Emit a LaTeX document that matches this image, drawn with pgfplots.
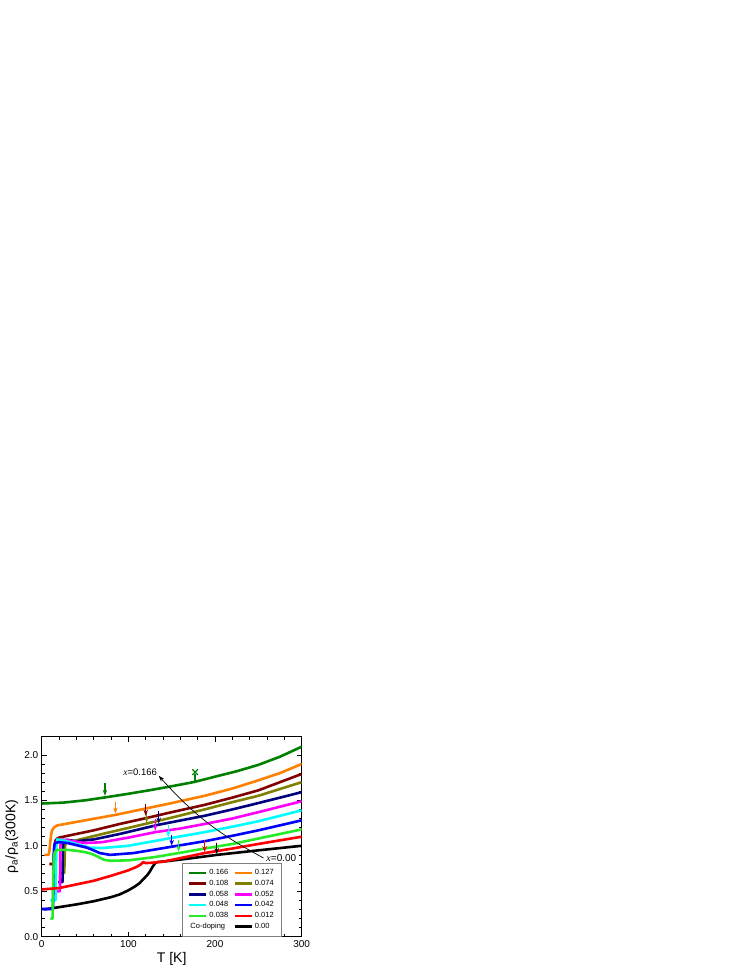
\documentclass[border=0pt]{standalone}
\usepackage{fontspec}
\setmainfont{Liberation Sans}
\newfontfamily\seriffont{Liberation Serif}
\usepackage{pgfplots}
\pgfplotsset{compat=1.18}
\usetikzlibrary{arrows.meta}
\definecolor{c166}{RGB}{0,128,0}
\definecolor{c127}{RGB}{255,128,0}
\definecolor{c108}{RGB}{128,0,0}
\definecolor{c074}{RGB}{128,128,0}
\definecolor{c058}{RGB}{0,0,128}
\definecolor{c052}{RGB}{255,0,255}
\definecolor{c048}{RGB}{0,255,255}
\definecolor{c042}{RGB}{0,0,255}
\definecolor{c038}{RGB}{40,235,40}
\definecolor{c012}{RGB}{255,0,0}
\begin{document}
\begin{tikzpicture}
\path[use as bounding box] (-41.7pt,-30.3pt) rectangle (705.3pt,936.7pt);
\begin{axis}[
  at={(0,0)}, anchor=south west,
  scale only axis, width=260pt, height=200pt,
  xmin=0, xmax=300, ymin=0, ymax=2.2,
  xtick={0,100,200,300}, ytick={0,0.5,1,1.5,2},
  minor x tick num=4, minor y tick num=4,
  tick align=inside, major tick length=5pt, minor tick length=3pt,
  every tick/.style={black, line width=0.6pt},
  axis line style={line width=0.6pt},
  /pgf/number format/assume math mode=true,
  yticklabel style={/pgf/number format/fixed,/pgf/number format/fixed zerofill,/pgf/number format/precision=1},
  ticklabel style={font=\fontsize{10}{12}\selectfont},
  xlabel={T [K]}, ylabel={ρ\textsubscript{a}/ρ\textsubscript{a}(300K)},
  label style={font=\fontsize{14}{16}\selectfont},
  xlabel style={yshift=2pt},
  ylabel style={yshift=-1pt},
  legend columns=2,
  legend cell align=left,
  legend style={at={(0.538,0.367)}, anchor=north west, draw=gray, line width=0.5pt,
    font=\fontsize{7.5}{9.3}\selectfont, inner xsep=6pt, inner ysep=4pt,
    /tikz/every even column/.append style={column sep=3pt}},
  every axis plot/.append style={line width=2.6pt, line join=round},
]
% 0.00 drawn first (behind)
\addplot[black, forget plot] coordinates {(2,0.30)(10,0.31)(20,0.325)(40,0.355)(60,0.39)(80,0.435)(90,0.465)(100,0.51)(108,0.555)(113,0.59)(118,0.64)(122,0.68)(125,0.72)(128,0.77)(131,0.81)(134,0.822)(140,0.826)(170,0.86)(202,0.9)(250,0.95)(300,1.0)};

\addplot[c166] coordinates {(0,1.465)(25,1.475)(50,1.50)(75,1.535)(100,1.572)(125,1.612)(150,1.655)(175,1.70)(200,1.76)(225,1.82)(250,1.89)(275,1.98)(300,2.09)};
\addlegendentry{0.166}
\addplot[c127] coordinates {(3,0.9)(8,0.9)(9,0.95)(10,1.05)(11,1.13)(12,1.17)(14,1.2)(17,1.22)(20,1.228)(30,1.245)(50,1.28)(85,1.34)(120,1.41)(150,1.47)(188,1.55)(220,1.63)(250,1.72)(275,1.80)(300,1.9)};
\addlegendentry{0.127}
\addplot[c108] coordinates {(9,0.8)(14,0.8)(14.5,0.9)(15,1.0)(16,1.06)(18,1.08)(20,1.09)(30,1.11)(60,1.17)(90,1.24)(123,1.31)(150,1.37)(188,1.45)(220,1.53)(250,1.61)(300,1.79)};
\addlegendentry{0.108}
\addplot[c074] coordinates {(22,0.7)(26,0.7)(26.5,0.85)(27,1.0)(28,1.03)(40,1.06)(70,1.13)(106,1.21)(150,1.31)(188,1.40)(220,1.48)(250,1.55)(300,1.70)};
\addlegendentry{0.074}
\addplot[c058] coordinates {(19,0.6)(24,0.6)(24.3,0.8)(24.6,1.0)(25.5,1.06)(30,1.065)(40,1.05)(60,1.07)(90,1.13)(134,1.23)(188,1.33)(220,1.40)(250,1.47)(300,1.59)};
\addlegendentry{0.058}
\addplot[c052] coordinates {(17,0.5)(21,0.5)(21.3,0.8)(21.6,1.0)(22.5,1.07)(30,1.06)(50,1.03)(70,1.04)(100,1.09)(131,1.15)(160,1.19)(188,1.24)(220,1.30)(250,1.37)(300,1.49)};
\addlegendentry{0.052}
\addplot[c048] coordinates {(10,0.4)(16,0.4)(16.5,0.7)(17,1.0)(18,1.07)(25,1.06)(40,1.02)(55,0.98)(70,0.975)(100,1.0)(146,1.08)(188,1.15)(220,1.21)(250,1.27)(300,1.39)};
\addlegendentry{0.048}
\addplot[c042] coordinates {(0,0.305)(13,0.305)(13.5,0.6)(14,0.95)(15,1.03)(20,1.04)(30,1.03)(52,0.98)(60,0.95)(67,0.92)(79,0.90)(106,0.92)(150,0.99)(188,1.05)(220,1.11)(250,1.17)(300,1.28)};
\addlegendentry{0.042}
\addplot[c038] coordinates {(10,0.2)(12.5,0.2)(13,0.5)(14,0.85)(15,0.93)(18,0.955)(30,0.955)(40,0.945)(50,0.93)(58,0.91)(65,0.88)(72,0.845)(80,0.835)(100,0.84)(130,0.875)(158,0.92)(188,0.97)(220,1.02)(250,1.08)(300,1.18)};
\addlegendentry{0.038}
\addplot[c012] coordinates {(0,0.52)(20,0.535)(40,0.575)(60,0.615)(80,0.67)(100,0.73)(110,0.77)(115,0.80)(117,0.82)(120,0.81)(125,0.812)(140,0.825)(188,0.92)(220,0.97)(250,1.02)(300,1.1)};
\addlegendentry{0.012}
\addlegendimage{empty legend}
\addlegendentry{\makebox[0pt][l]{\hspace*{-19pt}Co-doping}}
\addlegendimage{black, line width=2.6pt}
\addlegendentry{0.00}

% arrows marking transitions
\pgfplotsset{arr/.style={line width=1.2pt, -{Stealth[length=6pt,width=4.5pt]}, forget plot}}
\addplot[c166, arr] coordinates {(73,1.69)(73,1.55)};
\addplot[c127, arr] coordinates {(85,1.48)(85,1.355)};
\addplot[c074, arr] coordinates {(121,1.37)(121,1.255)};
\addplot[c108, arr] coordinates {(120,1.46)(120,1.33)};
\addplot[c052, arr] coordinates {(131,1.30)(131,1.165)};
\addplot[c058, arr] coordinates {(135,1.38)(135,1.245)};
\addplot[c048, arr] coordinates {(146,1.23)(146,1.095)};
\addplot[c042, arr] coordinates {(150,1.12)(150,1.0)};
\addplot[c038, arr] coordinates {(158,1.06)(158,0.935)};
\addplot[c012, arr] coordinates {(188,1.06)(188,0.93)};
\addplot[black, arr] coordinates {(202,1.03)(202,0.91)};
\addplot[c166, line width=1.2pt, forget plot] coordinates {(177,1.71)(177,1.79)};
\addplot[c166, only marks, mark=x, mark size=4pt, mark options={line width=1.3pt}, forget plot] coordinates {(177,1.81)};

\draw[-{Stealth[length=6pt,width=4pt]}, line width=0.7pt] (axis cs:256,0.866) to[bend left=10] (axis cs:135,1.77);
\node[anchor=west, font=\fontsize{10}{12}\selectfont, inner sep=1pt] at (axis cs:258,0.866) {{\seriffont\itshape x}=0.00};
\node[anchor=west, font=\fontsize{9.5}{11}\selectfont, inner sep=0pt] at (axis cs:94,1.805) {{\seriffont\itshape x}=0.166};
\end{axis}
\end{tikzpicture}
\end{document}
